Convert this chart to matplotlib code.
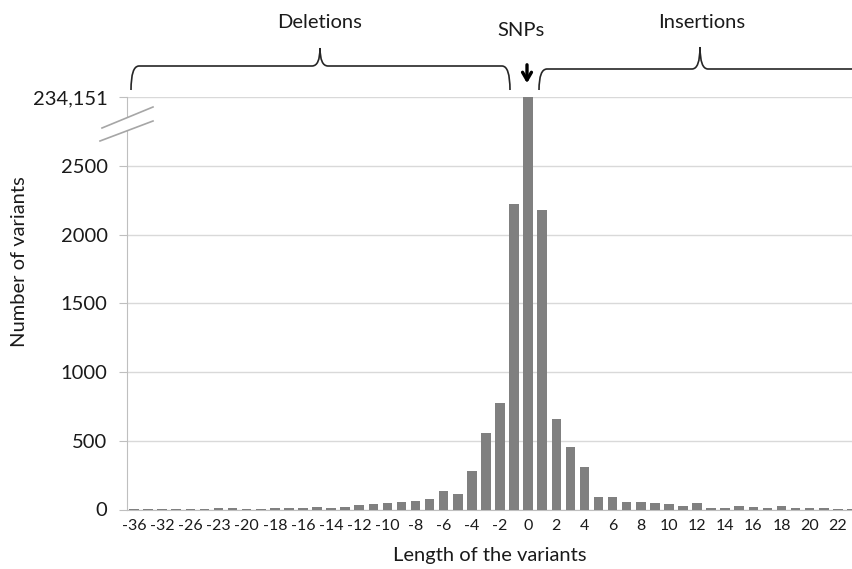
import numpy as np
import matplotlib
matplotlib.use('Agg')
import matplotlib.pyplot as plt
import matplotlib.transforms as mtransforms
from matplotlib.path import Path
from matplotlib.patches import PathPatch, Polygon
from matplotlib.lines import Line2D

#Length of each variant class (negative = deletions, 0 = SNPs, positive = insertions)
variantLengths = [-36, -34, -32, -28, -26, -24, -23, -21,
                  -20, -19, -18, -17, -16, -15, -14, -13, -12, -11,
                  -10, -9, -8, -7, -6, -5, -4, -3, -2, -1,
                  0, 1, 2, 3, 4, 5, 6, 7, 8, 9, 10, 11,
                  12, 13, 14, 15, 16, 17, 18, 19, 20, 21, 22, 23]
variantCounts = [3, 2, 3, 2, 4, 3, 8, 12,
                 4, 6, 14, 9, 14, 19, 12, 19, 36, 41,
                 49, 58, 63, 73, 132, 113, 282, 553, 778, 2222,
                 234151, 2180, 660, 456, 311, 93, 89, 55, 55, 44, 39, 24,
                 44, 10, 10, 24, 19, 10, 24, 10, 10, 10, 5, 5]

yTicks = [0, 500, 1000, 1500, 2000, 2500, 3000]
yTickLabels = ['0', '500', '1000', '1500', '2000', '2500', '234,151']

W, H = 853, 569
FONT = 'Lato'
TXT = '#1a1a1a'


#Draws a curly brace (in pixel coordinates) from x0 to x1 with its tip at xm.
def brace(fig, trans, x0, x1, xm, yBase, yLine, yPeak, r=8):
    verts = [(x0, yBase), (x0, yLine), (x0 + r, yLine),
             (xm - r, yLine), (xm, yLine), (xm, yPeak),
             (xm, yLine), (xm + r, yLine),
             (x1 - r, yLine), (x1, yLine), (x1, yBase)]
    codes = [Path.MOVETO, Path.CURVE3, Path.CURVE3,
             Path.LINETO, Path.CURVE3, Path.CURVE3,
             Path.CURVE3, Path.CURVE3,
             Path.LINETO, Path.CURVE3, Path.CURVE3]
    patch = PathPatch(Path(verts, codes), facecolor='none', edgecolor='#262626',
                      lw=1.2, transform=trans, zorder=6)
    fig.add_artist(patch)


def main():
    fig = plt.figure(figsize=(W / 100.0, H / 100.0), dpi=100)
    pxTrans = mtransforms.Affine2D().scale(1.0 / W, -1.0 / H).translate(0, 1) + fig.transFigure

    axLeft, axRight, axTop, axBottom = 127.0, 853.0, 97.0, 509.5
    ax = fig.add_axes([axLeft / W, 1 - axBottom / H, (axRight - axLeft) / W, (axBottom - axTop) / H])

    zeroIdx = variantLengths.index(0)
    positions = np.arange(len(variantLengths)) - zeroIdx
    ax.bar(positions, variantCounts, width=0.68, color='#808080', zorder=3)

    ax.set_xlim(-28.5, 23.08)
    ax.set_ylim(0, 3000)
    ax.set_axisbelow(True)
    ax.yaxis.grid(True, color='#d9d9d9', lw=1.0)

    ax.set_yticks(yTicks)
    ax.set_yticklabels(yTickLabels, fontsize=14.5, fontfamily=FONT, color=TXT)
    ax.set_xticks(positions[::2])
    ax.set_xticklabels([str(v) for v in variantLengths[::2]], fontsize=11.5, fontfamily=FONT, color=TXT)
    ax.tick_params(axis='x', length=0, pad=7)
    ax.tick_params(axis='y', length=6, color='#bfbfbf', pad=8)

    for s in ['top', 'right']:
        ax.spines[s].set_visible(False)
    ax.spines['left'].set_color('#bfbfbf')
    ax.spines['bottom'].set_color('#bfbfbf')

    fig.text(20 / W, 1 - 262 / H, 'Number of variants', rotation=90, ha='center', va='center',
             fontsize=14.5, fontfamily=FONT, color=TXT)
    fig.text(490 / W, 1 - 556 / H, 'Length of the variants', ha='center', va='center',
             fontsize=14.5, fontfamily=FONT, color=TXT)

    #axis break marks
    fig.add_artist(Polygon([(102, 128), (153, 107), (153, 121), (100, 141)], closed=True,
                           facecolor='white', edgecolor='none', transform=pxTrans, zorder=5))
    fig.add_artist(Line2D([102, 153], [128, 107], color='#a6a6a6', lw=1.2, transform=pxTrans, zorder=6))
    fig.add_artist(Line2D([100, 153], [141, 121], color='#a6a6a6', lw=1.2, transform=pxTrans, zorder=6))

    #braces and labels above the plot
    brace(fig, pxTrans, 131, 510, 320, 90, 66, 48)
    brace(fig, pxTrans, 539, 1100, 700, 90, 69, 47)
    fig.text(320 / W, 1 - 22 / H, 'Deletions', ha='center', va='center', fontsize=14.5, fontfamily=FONT, color=TXT)
    fig.text(702 / W, 1 - 22 / H, 'Insertions', ha='center', va='center', fontsize=14.5, fontfamily=FONT, color=TXT)
    fig.text(521 / W, 1 - 30 / H, 'SNPs', ha='center', va='center', fontsize=14.5, fontfamily=FONT, color=TXT)
    ax.annotate('', xy=(527 / W, 1 - 86 / H), xytext=(527 / W, 1 - 62 / H), xycoords='figure fraction',
                arrowprops=dict(arrowstyle='->,head_length=0.55,head_width=0.32', lw=2.4, color='black'),
                annotation_clip=False)

    fig.savefig('out.png', dpi=100)


if __name__ == '__main__':
    main()
